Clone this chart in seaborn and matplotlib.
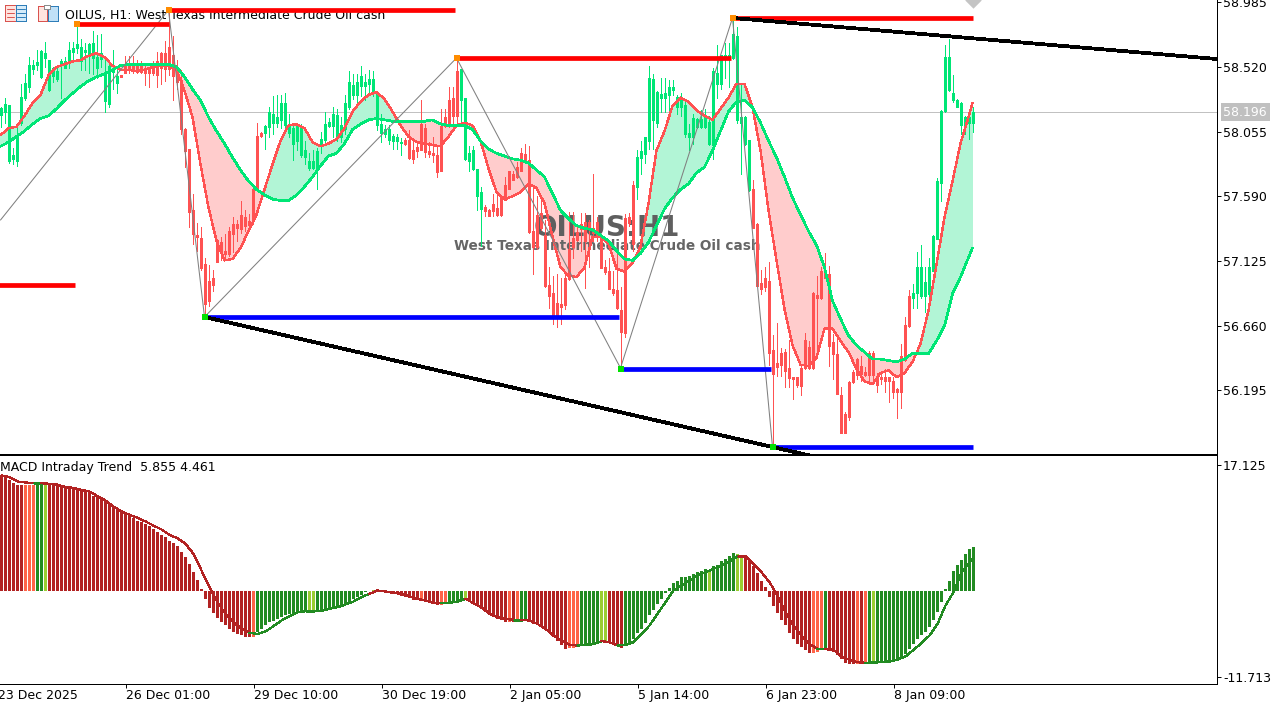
import numpy as np
import matplotlib
matplotlib.use('Agg')
import matplotlib.pyplot as plt
from matplotlib.patches import Rectangle
import pandas as pd
import seaborn as sns

# candles, one per hour
opens = [
    58.18,58.20,57.85,57.86,57.85,58.12,58.30,58.38,58.51,58.54,
    58.45,58.59,58.36,58.46,58.44,58.54,58.52,58.56,58.63,58.66,
    58.57,58.63,58.60,58.59,58.52,58.58,58.28,58.26,58.49,58.41,
    58.46,58.53,58.52,58.52,58.53,58.54,58.50,58.50,58.53,58.56,
    58.62,58.62,58.66,58.60,58.51,58.42,58.07,57.93,57.49,57.31,
    57.29,57.10,56.98,57.00,57.27,57.26,57.19,57.34,57.39,57.39,
    57.45,57.44,57.41,57.64,58.02,58.04,58.05,58.09,58.12,58.12,
    58.14,58.11,58.05,57.97,57.99,57.89,57.88,57.80,57.80,57.79,
    57.97,58.00,58.10,58.10,58.02,58.02,58.08,58.24,58.32,58.32,
    58.39,58.39,58.40,58.35,58.11,58.05,58.04,58.00,57.99,57.99,
    57.98,57.99,57.99,57.92,57.94,58.11,58.08,57.91,57.90,57.88,
    58.09,58.16,58.28,58.29,58.49,58.29,57.86,57.85,57.79,57.60,
    57.50,57.51,57.49,57.53,57.50,57.59,57.67,57.77,57.75,57.80,
    57.90,57.89,57.85,57.34,57.45,57.47,57.31,56.95,56.89,56.82,
    56.81,57.00,57.21,57.29,57.33,57.39,57.40,57.40,57.36,57.40,
    57.29,57.08,57.05,56.92,56.91,56.77,57.43,57.44,57.67,57.66,
    57.87,57.90,57.99,58.14,58.12,58.30,58.30,58.32,58.36,58.24,
    58.24,58.04,58.02,58.02,58.09,58.09,58.09,57.97,57.96,58.40,
    58.40,58.59,58.60,58.59,58.14,58.12,57.97,57.64,57.64,57.39,
    56.96,57.00,56.98,56.48,56.39,56.46,56.47,56.35,56.29,56.29,
    56.35,56.55,56.50,56.89,56.88,57.05,57.04,57.03,56.54,56.45,
    56.16,56.02,56.25,56.32,56.42,56.37,56.32,56.46,56.46,56.29,
    56.29,56.29,56.29,56.26,56.20,56.44,56.66,56.87,56.86,56.90,
    56.88,56.88,56.89,57.06,57.29,57.69,58.21,58.36,58.29,58.24,
    58.11,58.11,58.12,58.12]
highs = [
    58.23,58.30,58.24,57.94,58.08,58.40,58.47,58.59,58.57,58.64,
    58.64,58.70,58.57,58.52,58.51,58.58,58.59,58.70,58.70,58.82,
    58.72,58.69,58.69,58.78,58.75,58.76,58.57,58.57,58.64,58.50,
    58.46,58.60,58.60,58.60,58.57,58.56,58.53,58.51,58.56,58.63,
    58.63,58.71,58.93,58.74,58.57,58.50,58.08,57.93,57.61,57.40,
    57.37,57.15,57.10,57.06,57.28,57.30,57.32,57.37,57.44,57.42,
    57.56,57.49,57.46,57.64,58.12,58.05,58.10,58.23,58.31,58.32,
    58.32,58.33,58.18,58.11,58.11,58.11,57.99,57.90,57.92,57.94,
    58.05,58.20,58.15,58.23,58.22,58.16,58.32,58.49,58.47,58.47,
    58.53,58.47,58.50,58.49,58.35,58.18,58.10,58.10,58.04,58.04,
    58.01,58.01,58.07,57.99,57.97,58.28,58.11,57.98,58.02,57.95,
    58.22,58.22,58.38,58.38,58.58,58.50,58.30,57.95,57.95,57.79,
    57.66,57.53,57.50,57.61,57.60,57.60,57.73,57.77,57.77,57.84,
    57.94,57.97,57.95,57.66,57.59,57.60,57.42,57.08,57.02,57.03,
    57.00,57.03,57.48,57.48,57.39,57.47,57.47,57.42,57.75,57.44,
    57.31,57.13,57.15,57.05,57.18,56.94,57.46,57.47,57.70,57.92,
    57.99,58.02,58.53,58.47,58.35,58.44,58.44,58.43,58.43,58.32,
    58.33,58.27,58.11,58.18,58.15,58.21,58.22,58.17,58.51,58.68,
    58.60,58.69,58.69,58.87,58.81,58.40,58.17,57.99,57.71,57.40,
    57.06,57.08,57.12,56.59,56.68,56.50,56.49,56.56,56.29,56.29,
    56.37,56.61,56.55,56.90,57.02,57.08,57.18,57.09,56.60,56.59,
    56.22,56.04,56.26,56.34,56.43,56.44,56.36,56.48,56.48,56.32,
    56.31,56.35,56.29,56.29,56.21,56.53,56.72,56.92,56.96,57.19,
    57.24,57.08,57.15,57.31,57.72,58.21,58.68,58.72,58.46,58.29,
    58.27,58.17,58.18,58.23]
lows = [
    58.09,58.12,57.83,57.82,57.81,58.10,58.28,58.34,58.47,58.50,
    58.44,58.52,58.35,58.41,58.42,58.30,58.51,58.51,58.57,58.62,
    58.50,58.50,58.48,58.47,58.44,58.52,58.20,58.23,58.36,58.33,
    58.455,58.48,58.48,58.48,58.48,58.48,58.39,58.38,58.46,58.38,
    58.40,58.42,58.46,58.28,58.36,58.04,57.80,57.37,57.25,57.20,
    57.06,56.73,56.80,56.91,57.12,57.13,57.15,57.16,57.19,57.27,
    57.33,57.34,57.34,57.39,57.64,58.02,57.93,58.02,58.04,58.09,
    58.08,58.05,58.02,57.85,57.92,57.87,57.82,57.78,57.79,57.64,
    57.90,57.97,58.09,58.02,57.99,57.98,58.04,58.22,58.29,58.25,
    58.31,58.28,58.33,58.31,58.07,57.98,58.02,57.97,57.93,57.93,
    57.89,57.96,57.86,57.83,57.87,57.92,57.87,57.87,57.84,57.73,
    57.77,58.09,58.09,58.11,58.11,58.11,57.85,57.77,57.78,57.49,
    57.23,57.45,57.45,57.45,57.45,57.45,57.57,57.65,57.71,57.72,
    57.78,57.84,57.33,57.03,57.21,57.35,56.94,56.79,56.67,56.65,
    56.67,56.78,56.99,57.15,57.27,57.20,56.93,57.08,57.27,57.27,
    57.08,57.03,56.93,56.88,56.78,56.36,56.58,57.38,57.20,57.57,
    57.75,57.83,57.93,57.93,58.09,58.20,58.20,58.20,58.32,58.18,
    58.17,58.02,57.92,57.97,58.08,58.08,58.08,57.96,57.86,58.30,
    58.36,58.44,58.38,58.58,58.12,57.75,57.96,57.63,57.37,56.95,
    56.89,56.91,56.38,55.78,56.30,56.30,56.22,56.22,56.13,56.22,
    56.16,56.35,56.35,56.35,56.49,56.85,57.00,56.37,56.28,56.17,
    55.89,55.89,55.98,56.25,56.28,56.26,56.30,56.24,56.24,56.18,
    56.24,56.18,56.11,56.14,56.00,56.07,56.41,56.65,56.79,56.79,
    56.86,56.76,56.86,57.06,57.28,57.56,58.20,58.35,58.27,58.23,
    58.04,58.04,58.00,58.05]
closes = [
    58.22,58.25,58.24,57.88,58.03,58.30,58.40,58.53,58.53,58.55,
    58.63,58.62,58.57,58.51,58.49,58.56,58.56,58.64,58.65,58.68,
    58.66,58.64,58.68,58.69,58.59,58.62,58.48,58.52,58.50,58.45,
    58.455,58.48,58.50,58.51,58.49,58.49,58.48,58.48,58.48,58.47,
    58.52,58.51,58.51,58.46,58.42,58.08,57.92,57.48,57.32,57.30,
    57.08,56.82,56.84,56.96,57.12,57.20,57.18,57.18,57.32,57.37,
    57.36,57.38,57.39,57.42,57.64,58.03,58.09,58.19,58.18,58.16,
    58.26,58.26,58.11,58.08,58.09,58.09,57.92,57.84,57.84,57.91,
    58.00,58.11,58.12,58.18,58.17,58.10,58.26,58.41,58.39,58.41,
    58.45,58.41,58.43,58.43,58.33,58.11,58.07,58.07,58.02,58.01,
    57.98,57.97,57.87,57.86,57.92,57.93,57.91,57.90,57.89,57.77,
    57.78,58.10,58.11,58.17,58.17,58.50,58.29,57.90,57.92,57.78,
    57.62,57.49,57.45,57.49,57.46,57.46,57.57,57.65,57.71,57.73,
    57.78,57.84,57.34,57.23,57.23,57.37,56.95,56.88,56.73,56.72,
    56.80,56.81,57.00,57.23,57.28,57.36,57.27,57.37,57.33,57.30,
    57.08,57.05,56.93,56.90,56.79,56.62,56.61,57.40,57.25,57.87,
    57.91,58.01,58.44,58.43,58.34,58.32,58.33,58.37,58.37,58.30,
    58.28,58.24,58.04,58.15,58.14,58.14,58.17,58.12,58.49,58.47,
    58.60,58.60,58.60,58.75,58.74,58.16,58.16,57.99,57.37,56.95,
    56.93,56.94,56.47,56.32,56.37,56.38,56.34,56.29,56.28,56.24,
    56.23,56.36,56.36,56.36,56.86,56.86,57.01,56.52,56.46,56.17,
    55.89,55.89,56.01,56.26,56.31,56.32,56.31,56.31,56.31,56.24,
    56.28,56.27,56.27,56.19,56.19,56.19,56.42,56.66,56.89,57.08,
    57.08,56.97,57.08,57.30,57.70,58.20,58.59,58.59,58.33,58.28,
    58.26,58.16,58.16,58.196]

# moving averages and macd signal, read every second bar
ma_idx = list(range(0, 244, 2)) + [243]
ma_fast = [
    58.03,58.08,58.09,58.17,58.26,58.32,58.46,58.52,58.54,58.56,
    58.57,58.60,58.62,58.59,58.53,58.50,58.50,58.49,58.50,58.52,
    58.53,58.53,58.50,58.35,58.16,57.82,57.51,57.27,57.13,57.14,
    57.22,57.34,57.46,57.64,57.82,57.99,58.10,58.11,58.08,57.98,
    57.95,57.97,58.00,58.08,58.20,58.27,58.32,58.34,58.29,58.20,
    58.10,58.02,57.98,57.97,57.96,57.95,58.02,58.10,58.12,58.10,
    57.99,57.79,57.62,57.57,57.59,57.62,57.68,57.65,57.54,57.30,
    57.08,57.02,57.01,57.08,57.30,57.30,57.25,57.07,57.05,57.11,
    57.23,57.54,57.92,58.06,58.24,58.30,58.27,58.21,58.17,58.14,
    58.22,58.30,58.40,58.40,58.23,57.92,57.49,57.13,56.78,56.52,
    56.38,56.37,56.43,56.64,56.64,56.55,56.47,56.35,56.26,56.24,
    56.32,56.34,56.29,56.32,56.40,56.53,56.77,57.10,57.44,57.70,
    57.97,58.16,58.26]
ma_slow = [
    57.95,57.98,58.02,58.06,58.11,58.15,58.17,58.22,58.28,58.33,
    58.38,58.42,58.45,58.47,58.50,58.53,58.54,58.54,58.54,58.54,
    58.54,58.54,58.52,58.45,58.36,58.28,58.16,58.06,57.97,57.87,
    57.78,57.70,57.64,57.60,57.57,57.56,57.56,57.60,57.66,57.73,
    57.81,57.88,57.90,57.97,58.07,58.11,58.14,58.15,58.14,58.13,
    58.13,58.13,58.13,58.13,58.14,58.11,58.10,58.10,58.10,58.07,
    57.99,57.93,57.90,57.88,57.86,57.85,57.83,57.78,57.73,57.61,
    57.49,57.43,57.38,57.36,57.35,57.31,57.27,57.20,57.14,57.13,
    57.18,57.26,57.38,57.50,57.58,57.64,57.68,57.76,57.80,57.92,
    58.06,58.20,58.27,58.28,58.23,58.12,57.99,57.87,57.73,57.58,
    57.46,57.34,57.24,57.08,56.84,56.71,56.59,56.52,56.47,56.42,
    56.42,56.41,56.40,56.42,56.46,56.46,56.46,56.55,56.66,56.89,
    57.01,57.15,57.22]
signal = [
    15.65,15.42,14.83,14.69,14.60,14.60,14.51,14.40,14.06,13.97,
    13.70,13.47,12.83,12.24,11.43,10.75,10.29,9.89,9.39,8.84,
    8.30,7.57,7.12,6.35,4.99,2.72,0.45,-1.59,-3.17,-4.31,
    -5.22,-5.76,-5.90,-5.58,-4.85,-4.08,-3.49,-2.95,-2.81,-2.81,
    -2.77,-2.49,-2.27,-1.90,-1.50,-0.91,-0.45,0.0,-0.14,-0.32,
    -0.45,-0.82,-1.13,-1.36,-1.68,-1.72,-1.68,-1.50,-1.13,-1.72,
    -2.27,-3.17,-3.63,-3.85,-3.99,-3.99,-4.08,-4.54,-5.22,-6.12,
    -6.80,-7.39,-7.48,-7.39,-7.30,-6.89,-7.03,-7.48,-7.39,-7.03,
    -5.90,-4.76,-3.17,-1.59,0.0,0.68,1.36,2.04,2.49,2.95,
    3.40,3.99,4.63,4.63,3.63,2.49,1.13,-0.68,-2.95,-4.76,
    -6.12,-7.26,-7.94,-7.98,-8.07,-8.98,-9.43,-9.75,-9.84,-9.80,
    -9.75,-9.66,-9.39,-8.98,-8.07,-7.17,-6.12,-4.54,-2.04,-0.23,
    2.49,3.85,4.461]

# zigzag and its levels
zigzag_idx = [0, 42, 51, 114, 155, 183, 193]
zigzag_val = [57.42, 58.93, 56.723, 58.585, 56.356, 58.873, 55.788]
res_start = [-1, 19, 42, 114, 183]
res_end = [18.5, 42, 113.5, 182.5, 243]
res_val = [56.953, 58.83, 58.93, 58.585, 58.873]
sup_start = [51, 155, 193]
sup_end = [154.7, 192.7, 243]
sup_val = [56.723, 56.349, 55.788]
high_pivot_idx = [19, 42, 114, 183]
high_pivot_val = [58.83, 58.93, 58.585, 58.873]
low_pivot_idx = [51, 155, 193]
low_pivot_val = [56.723, 56.349, 55.788]
upper_idx = [183, 304]
upper_val = [58.873, 58.578]
lower_idx = [51, 203]
lower_val = [56.723, 55.722]

last_price = 58.196
price_ticks = [58.985, 58.520, 58.055, 57.590, 57.125, 56.660, 56.195]
macd_ticks = [17.125, -11.713]

# macd histogram
hist = [
    15.6,15.4,15.1,14.6,14.4,14.4,14.4,14.4,14.4,14.5,
    14.5,14.4,14.4,14.3,14.2,14.1,14.0,13.9,13.8,13.7,
    13.6,13.4,13.2,12.9,12.7,12.5,12.2,11.8,11.3,11.0,
    10.7,10.4,10.1,9.8,9.5,9.3,9.0,8.8,8.3,7.9,
    7.6,7.3,6.8,6.5,6.0,5.3,4.6,3.6,2.5,1.4,
    0.15,-1.22,-2.36,-3.04,-3.72,-4.22,-4.76,-5.22,-5.58,-5.90,
    -6.12,-6.30,-6.35,-6.35,-5.67,-5.22,-4.76,-4.31,-4.17,-3.85,
    -3.63,-3.31,-3.17,-3.04,-2.95,-2.95,-2.72,-2.72,-2.72,-2.72,
    -2.63,-2.49,-2.40,-2.27,-2.13,-2.04,-1.81,-1.59,-1.13,-0.91,
    -0.68,-0.23,-0.1,0.1,-0.1,-0.1,-0.2,-0.3,-0.35,-0.45,
    -0.77,-0.91,-1.04,-1.27,-1.36,-1.45,-1.59,-1.72,-1.81,-1.95,
    -2.04,-1.90,-1.68,-1.59,-1.27,-1.13,-1.13,-1.45,-1.81,-2.13,
    -2.49,-2.95,-3.31,-3.54,-3.85,-4.08,-4.31,-4.22,-4.31,-4.17,
    -3.99,-3.99,-4.17,-4.54,-4.76,-4.99,-5.35,-5.67,-6.26,-6.89,
    -7.35,-7.94,-7.85,-7.85,-7.62,-7.48,-7.48,-7.39,-7.26,-7.03,
    -6.89,-6.89,-7.17,-7.26,-7.39,-7.80,-7.48,-7.03,-6.58,-5.80,
    -5.22,-4.44,-3.40,-2.63,-1.90,-1.09,-0.3,0.36,1.0,1.36,
    1.81,1.81,2.04,2.18,2.49,2.72,2.86,2.81,3.27,3.49,
    3.95,4.31,4.63,5.17,5.03,4.85,4.63,4.17,3.31,2.36,
    1.27,0.45,-0.91,-2.13,-3.08,-3.99,-4.76,-5.80,-6.58,-7.26,
    -7.71,-8.07,-8.53,-8.57,-8.39,-7.94,-7.94,-8.07,-8.39,-8.84,
    -9.30,-9.89,-9.98,-9.98,-9.98,-9.98,-9.89,-9.66,-9.75,-9.75,
    -9.75,-9.66,-9.52,-9.39,-9.30,-9.16,-8.62,-7.94,-7.26,-6.58,
    -5.99,-5.58,-4.99,-4.08,-2.95,-1.59,0.14,1.36,2.59,3.49,
    4.17,4.99,5.58,5.855]
# r falling, t falling slower, g rising, y rising slower
trend = list('r'*6 + 't'*3 + 'g'*2 + 'y' + 'r'*51 + 't' + 'g'*13 + 'y'*2 + 'g'*14 + 'y'
             + 'r'*11 + 't' + 'r'*4 + 't'*2 + 'g'*4 + 'y' + 'r'*10 + 't' + 'r' + 't' + 'g'*2
             + 'r'*10 + 't'*3 + 'g'*5 + 'y'*2 + 'r'*4 + 'g'*21 + 'y' + 'g'*6 + 'y'*2 + 'r'*17
             + 't'*3 + 'g' + 'r'*7 + 't' + 'r' + 't' + 'g' + 'y' + 'g'*25)

date_idx = [-1, 31, 63, 95, 127, 159, 191, 223]
date_labels = ['23 Dec 2025', '26 Dec 01:00', '29 Dec 10:00', '30 Dec 19:00',
               '2 Jan 05:00', '5 Jan 14:00', '6 Jan 23:00', '8 Jan 09:00']

BULL = '#00E676'
BEAR = '#FF5252'
FONT = 'DejaVu Sans'
W, H = 1285, 706

sns.set_theme(style='white', rc={'patch.antialiased': False, 'axes.linewidth': 0.7})
plt.rcParams['font.family'] = [FONT]

fig = plt.figure(figsize=(W / 100, H / 100), dpi=100, facecolor='white')
ax = fig.add_axes([0, 1 - 453.5 / H, 1217 / W, 453.5 / H])
ax_macd = fig.add_axes([0, (H - 683.5) / H, 1217 / W, 228.5 / H])

idx = np.arange(len(opens))
opens = np.array(opens)
closes = np.array(closes)
colors = np.where(closes >= opens, BULL, BEAR)

ax.axhline(last_price, color='#C0C0C0', lw=0.7, zorder=1)

fast = np.array(ma_fast)
slow = np.array(ma_slow)
ax.fill_between(ma_idx, fast, slow, where=fast >= slow, interpolate=True,
                color='#B2F5D6', lw=0, zorder=1.2)
ax.fill_between(ma_idx, fast, slow, where=fast <= slow, interpolate=True,
                color='#FFCCCC', lw=0, zorder=1.2)

# watermark and header sit under the marks
ax.text(607 / 1217, 1 - 228 / 453.5, 'OILUS:H1', transform=ax.transAxes, ha='center', va='center',
        fontsize=20, fontweight='bold', color='#5f5f5f', zorder=1.5)
ax.text(607 / 1217, 1 - 246 / 453.5, 'West Texas Intermediate Crude Oil cash', transform=ax.transAxes,
        ha='center', va='center', fontsize=9.8, fontweight='bold', color='#666666', zorder=1.5)
ax.text(65 / 1217, 1 - 15 / 453.5, 'OILUS, H1: West Texas Intermediate Crude Oil cash',
        transform=ax.transAxes, ha='left', va='center', fontsize=9, color='black', zorder=1.6)

# wicks 1px, bodies 3px
ax.vlines(idx, lows, highs, colors=colors, lw=0.72, antialiased=False, zorder=2)
ax.vlines(idx, np.minimum(opens, closes) - 0.004, np.maximum(opens, closes) + 0.004, colors=colors,
          lw=2.16, antialiased=False, zorder=2)

sns.lineplot(x=ma_idx, y=ma_fast, ax=ax, color=BEAR, linewidth=1.0, estimator=None, sort=False,
             antialiased=False, zorder=3)
sns.lineplot(x=ma_idx, y=ma_slow, ax=ax, color=BULL, linewidth=1.2, estimator=None, sort=False,
             antialiased=False, zorder=3)

sns.lineplot(x=zigzag_idx, y=zigzag_val, ax=ax, color='#808080', linewidth=0.75,
             estimator=None, sort=False, zorder=3.5)

ax.hlines(res_val, res_start, res_end, colors='#FF0000', lw=3.4, zorder=4)
ax.hlines(sup_val, sup_start, sup_end, colors='#0000FF', lw=3.4, zorder=4)
ax.plot(upper_idx, upper_val, color='black', lw=2.0, antialiased=False, zorder=4.5)
ax.plot(lower_idx, lower_val, color='black', lw=2.0, antialiased=False, zorder=4.5)
ax.scatter(high_pivot_idx, high_pivot_val, marker='s', s=14, color='#FF8C00', linewidths=0, zorder=5)
ax.scatter(low_pivot_idx, low_pivot_val, marker='s', s=14, color='#00E000', linewidths=0, zorder=5)
ax.scatter([243], [59.002], marker='D', s=70, color='#C4C4C4', linewidths=0, zorder=5)

ax.set_xlim(-0.125, 304.125)
ax.set_ylim(59.002 - 453.5 * 0.00719, 59.002)
ax.set_xticks([])
ax.yaxis.tick_right()
ax.set_yticks(price_ticks)
ax.set_yticklabels([f'{v:.3f}' for v in price_ticks])
ax.set_xlabel('')
ax.set_ylabel('')
ax.tick_params(axis='y', right=True, length=3.2, width=0.7, color='black', pad=1.2,
               labelsize=9, labelcolor='black')
for side in ['top', 'left']:
    ax.spines[side].set_visible(False)
for side in ['bottom', 'right']:
    ax.spines[side].set_color('black')

# current price box
ax.annotate(f'{last_price:.3f}', xy=(1, last_price), xycoords=('axes fraction', 'data'),
            xytext=(4.5, 0), textcoords='offset points', va='center', ha='left', fontsize=9, color='white',
            annotation_clip=False,
            bbox=dict(boxstyle='square,pad=0.22', fc='#C0C0C0', ec='none'), zorder=6)

# macd pane
macd_df = pd.DataFrame({'bar': idx, 'hist': hist, 'trend': trend})
sns.barplot(data=macd_df, x='bar', y='hist', hue='trend', native_scale=True, dodge=False, width=0.75,
            palette={'r': '#B22222', 't': '#FF6347', 'g': '#228B22', 'y': '#9ACD32'},
            hue_order=['r', 't', 'g', 'y'], saturation=1, errorbar=None, legend=False,
            linewidth=0, ax=ax_macd, zorder=2)
for k in range(len(ma_idx) - 1):
    seg = trend[ma_idx[k + 1]]
    ax_macd.plot(ma_idx[k:k + 2], signal[k:k + 2], color='#B22222' if seg in 'rt' else '#228B22',
                 lw=0.95, solid_capstyle='round', antialiased=False, zorder=3)

ax_macd.set_xlim(-0.375, 303.875)
ax_macd.set_ylim(-(683.5 - 590.5) / 7.35, (590.5 - 455) / 7.35)
ax_macd.yaxis.tick_right()
ax_macd.set_yticks(macd_ticks)
ax_macd.set_yticklabels([f'{v:.3f}' for v in macd_ticks])
ax_macd.set_xticks(date_idx[1:])
ax_macd.set_xticklabels([])
ax_macd.set_xlabel('')
ax_macd.set_ylabel('')
ax_macd.tick_params(axis='y', right=True, length=3.2, width=0.7, color='black', pad=1.2,
                    labelsize=9, labelcolor='black')
ax_macd.tick_params(axis='x', bottom=True, length=3.2, width=0.7, color='black')
for d, lab in zip(date_idx, date_labels):
    ax_macd.annotate(lab, xy=(d, 0), xycoords=('data', 'axes fraction'), xytext=(0, -4),
                     textcoords='offset points', ha='left', va='top', fontsize=9, color='black',
                     annotation_clip=False)
ax_macd.spines['left'].set_visible(False)
for side in ['top', 'bottom', 'right']:
    ax_macd.spines[side].set_color('black')
ax_macd.text(0, 1 - 13 / 228.5, 'MACD Intraday Trend  5.855 4.461', transform=ax_macd.transAxes,
             ha='left', va='center', fontsize=9, color='black')

# the two toolbar icons
ov = fig.add_axes([0, 0, 1, 1], facecolor='none')
ov.set_xlim(0, W)
ov.set_ylim(H, 0)
ov.axis('off')
ov.add_patch(Rectangle((5, 5), 10.5, 16, fc='#FFE3DE', ec='#D9534F', lw=0.7))
ov.add_patch(Rectangle((15.5, 5), 10.5, 16, fc='#D5ECFA', ec='#2E7DB8', lw=0.7))
for y in [9, 13, 17]:
    ov.plot([7, 14], [y, y], color='#D9534F', lw=0.7)
    ov.plot([17, 25], [y, y], color='#2E7DB8', lw=0.7)
ov.add_patch(Rectangle((37.5, 6), 9.5, 15, fc='#FFE3DE', ec='#D9534F', lw=0.7))
ov.add_patch(Rectangle((48, 6), 10, 15, fc='#BFE0F7', ec='#2E7DB8', lw=0.7))
ov.add_patch(Rectangle((44, 5), 6, 3.5, fc='white', ec='#8C8C8C', lw=0.7))

fig.savefig('out.png', dpi=100)
